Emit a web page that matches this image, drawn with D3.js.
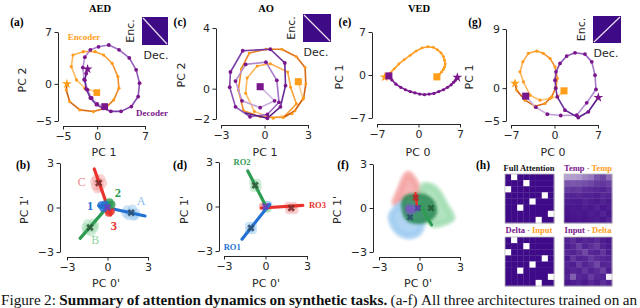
<!DOCTYPE html>
<html>
<head>
<meta charset="utf-8">
<script src="https://cdn.jsdelivr.net/npm/d3@7"></script>
<style>
  body { margin: 0; background: #fff; }
  svg { display: block; }
  .axis text { font-family: "DejaVu Sans"; font-size: 11px; fill: #262626; }
  .axis path, .axis line { stroke: #262626; stroke-width: 1; }
  .lab { font-family: "DejaVu Sans"; font-size: 11px; fill: #262626; }
  .bold { font-family: "Liberation Serif"; font-weight: bold; }
</style>
</head>
<body>
<div id="chart"></div>
<script>
// ---------- data ----------
// (a) AED trajectories, start (square) -> end (star)
const aEncoder = [[-0.05,-1.17],[-0.3,-1.03],[-1.8,-0.58],[-3.03,0.54],[-3.78,2.33],[-3.54,3.9],[-2.04,4.35],
  [-0.3,4.35],[0.94,3.9],[2.19,2.78],[3.03,0.99],[3.18,-0.58],[2.43,-2.16],[1.19,-3.28],[-0.55,-3.73],
  [-2.54,-3.5],[-4.03,-2.38],[-4.52,-0.81],[-4.43,0.0]];
const aDecoder = [[1.1,-3.05],[0.0,-2.7],[-0.8,-1.9],[-1.4,-0.8],[-1.9,0.6],[-2.1,2.2],[-1.8,3.6],[-1.0,4.6],
  [0.2,5.0],[1.7,5.25],[3.2,4.6],[4.7,3.5],[5.7,1.9],[6.2,0.1],[6.0,-1.7],[5.0,-3.05],[3.5,-3.7],[2.0,-3.7],
  [0.9,-3.3],[-0.1,-2.8],[-1.0,-1.9],[-1.6,-0.7],[-1.8,0.5],[-1.6,1.4],[-1.4,2.0]];
// (c) AO
const cOrange = [[2.33,0.46],[2.65,-0.7],[1.9,-1.65],[0.6,-1.95],[-0.7,-1.5],[-1.3,-0.3],[-1.2,0.7],[-0.5,1.5],
  [0.4,1.65],[1.6,1.1],[1.8,0.1],[2.2,-1.0],[1.3,-1.9],[-0.3,-1.85],[-1.45,-1.45],[-1.8,-0.1],[-1.6,1.3],
  [-1.05,2.35],[0.1,2.6],[1.2,2.6],[2.2,2.1],[2.8,1.4],[2.85,0.3],[2.7,-0.6],[2.1,-1.45],[1.4,-1.85]];
const cPurple = [[-0.3,0.13],[0.7,-0.8],[-0.3,-1.25],[-1.55,-0.8],[-2.0,0.5],[-1.3,1.6],[0.1,1.75],[0.85,0.55],
  [1.0,-0.9],[0.2,-1.7],[-1.0,-1.85],[-2.0,-1.2],[-2.4,0.1],[-2.35,1.1],[-1.5,2.5],[0.4,2.6],[1.4,1.7],
  [1.45,0.2],[1.1,-1.2],[0.2,-1.95],[-1.3,-1.6]];
// (e) VED
const eOrange = [[3.1,-0.3],[3.5,0.1],[3.9,0.5],[4.2,0.9],[4.4,1.3],[4.5,1.8],[4.4,2.4],[4.2,3.0],[3.8,3.6],
  [3.2,4.1],[2.5,4.5],[1.6,4.6],[0.6,4.4],[-0.4,3.9],[-1.4,3.2],[-2.4,2.5],[-3.3,1.8],[-4.1,1.0],[-4.8,0.3],
  [-5.4,-0.2],[-5.7,-0.35]];
const ePurple = [[-5.0,-0.15],[-4.5,-0.8],[-3.8,-1.5],[-3.0,-2.0],[-2.2,-2.4],[-1.4,-2.7],[-0.6,-2.9],[0.2,-3.1],
  [1.0,-3.2],[1.8,-3.1],[2.6,-3.0],[3.4,-2.7],[4.2,-2.4],[4.9,-2.0],[5.5,-1.6],[5.9,-1.2],[6.2,-0.9],
  [6.4,-0.6],[6.55,-0.4]];
// (g)
const gOrange = [[1.53,-0.41],[0.5,-1.3],[-0.72,-1.57],[-2.33,-1.83],[-3.94,-1.07],[-5.0,0.96],[-5.55,2.48],
  [-5.1,4.0],[-4.2,5.3],[-2.87,5.64],[-1.8,5.3],[-0.72,4.52],[0.08,3.25],[0.45,1.48],[0.24,0.2],[-0.45,-1.32],
  [-1.53,-2.33],[-3.14,-2.74],[-4.75,-1.83],[-6.1,-0.3],[-6.36,0.72]];
const gPurple = [[-4.64,-1.22],[-3.0,-2.9],[-1.15,-3.96],[1.0,-4.16],[3.57,-4.12],[5.18,-2.24],[6.68,-0.2],
  [6.52,1.98],[6.0,4.0],[4.9,5.18],[3.3,5.38],[1.96,4.88],[0.89,3.76],[0.24,2.48],[0.08,1.22],[0.2,0.0],
  [0.45,-1.32],[1.69,-3.35],[3.83,-4.47],[5.44,-3.6],[7.05,-1.42]];

// (b) readout lines, clusters, markers
const bLineRed = [[-0.98,2.6],[0.23,-0.5]];
const bLineGreen = [[-2.03,-2.08],[0.23,0.28]];
const bLineBlue = [[-0.65,0.12],[2.78,-0.57]];
const bClusterC = [[-0.85,1.95],[-0.5,1.95],[-0.35,1.65],[-0.55,1.35],[-0.9,1.45],[-0.65,1.7],[-0.75,1.25],[-0.95,1.75]];
const bClusterB = [[-1.5,-1.1],[-1.1,-1.05],[-1.0,-1.4],[-1.2,-1.65],[-1.55,-1.55],[-1.3,-1.35],[-1.6,-1.35],[-0.95,-1.2]];
const bClusterA = [[1.45,-0.15],[1.85,-0.1],[2.1,-0.35],[1.9,-0.6],[1.55,-0.55],[1.75,-0.35],[1.35,-0.4],[2.05,-0.55]];
const bCenterBlue = [[-0.45,0.15],[-0.3,-0.05],[-0.2,0.2]];
const bCenterGreen = [[0.15,0.35],[0.3,0.2],[0.1,0.15]];
const bCenterRed = [[0.1,-0.35],[0.25,-0.25],[0.05,-0.15]];
const bMarkA = [1.75,-0.35], bMarkB = [-1.3,-1.35], bMarkC = [-0.65,1.65], bMarkCenter = [0,0];

// (d)
const dLineGreen = [[-1.28,2.4],[0.1,-0.1]];
const dLineRed = [[-0.3,-0.1],[2.7,0.07]];
const dLineBlue = [[-1.7,-2.2],[0.29,0.14]];
const dClusterGreen = [[-0.9,1.6],[-0.6,1.6],[-0.55,1.3],[-0.85,1.25],[-0.75,1.45]];
const dClusterRed = [[1.65,0.05],[2.05,0.05],[2.1,-0.25],[1.7,-0.25],[1.86,-0.1]];
const dClusterBlue = [[-1.2,-1.3],[-0.9,-1.3],[-0.9,-1.6],[-1.2,-1.6],[-1.05,-1.45]];
const dCenterRed = [[-0.2,0.0],[-0.1,0.05]];
const dCenterGreen = [[0.15,-0.15],[0.05,-0.1]];
const dCenterBlue = [[0.2,0.1],[0.1,0.12]];
const dMarkGreen = [-0.75,1.43], dMarkRed = [1.86,-0.1], dMarkBlue = [-1.05,-1.45], dMarkCenter = [0,0];

// (f) clouds
const fCloudRed = [[-0.85,2.3],[-0.5,2.0],[-0.1,1.3],[0.05,0.9],[-0.6,0.6],[-1.4,0.45],[-1.8,0.35],[-1.5,1.1]];
const fCloudBlue = [[-1.2,0.3],[-0.5,0.2],[0.1,-0.4],[0.1,-1.4],[-0.4,-1.85],[-1.1,-1.85],[-1.7,-1.5],[-2.1,-0.6],[-1.8,-0.1]];
const fCloudGreen = [[0.3,1.5],[0.9,1.45],[1.35,1.1],[1.9,0.2],[2.4,-0.7],[1.9,-0.95],[1.0,-1.1],[0.4,-0.4],[0.2,0.6]];
const fCloudDark = [[-1.1,0.7],[-0.2,0.9],[0.7,0.7],[1.15,0.1],[1.1,-0.5],[0.3,-0.95],[-0.8,-0.85],[-1.2,-0.2]];
const fCloudPurple = [[-0.95,0.1],[-0.5,0.15],[-0.3,-0.15],[-0.6,-0.35],[-0.95,-0.25]];
const fLineGreen = [[0.04,0.2],[0.9,-1.16]];
const fLineRed = [[-0.3,1.0],[-0.2,0.2]];
const fMarkRed = [-0.28,0.7], fMarkGreen = [0.85,0.0], fMarkBlue = [-0.7,-0.63], fMarkCenter = [-0.13,0.0];

// (h) attention maps
const fullAttnPerm = [1, 3, 0, 6, 4, 2, 7, 5];
const tempTemp = [
  [0.62,0.6,0.58,0.5,0.45,0.3,0.25,0.4],
  [0.3,0.32,0.3,0.28,0.25,0.2,0.18,0.22],
  [0.2,0.18,0.2,0.15,0.14,0.12,0.1,0.15],
  [0.12,0.1,0.12,0.1,0.1,0.08,0.12,0.1],
  [0.08,0.07,0.06,0.1,0.08,0.06,0.1,0.06],
  [0.05,0.06,0.05,0.08,0.06,0.1,0.05,0.08],
  [0.04,0.05,0.06,0.05,0.08,0.06,0.1,0.05],
  [0.03,0.04,0.05,0.04,0.06,0.08,0.05,0.1]];
const inputDelta = [
  [0.1,0.15,0.08,0.12,0.1,0.14,0.08,0.05],
  [0.08,0.12,0.22,0.1,0.15,0.2,0.1,0.06],
  [0.12,0.1,0.15,0.25,0.12,0.1,0.18,0.08],
  [0.06,0.18,0.1,0.12,0.2,0.14,0.12,0.1],
  [0.1,0.08,0.2,0.1,0.15,0.25,0.1,0.12],
  [0.08,0.12,0.1,0.18,0.1,0.14,0.22,0.08],
  [0.1,0.35,0.12,0.1,0.2,0.12,0.1,0.95],
  [0.05,0.08,0.1,0.06,0.12,0.08,0.15,0.1]];

// tick values & labels
const ticksA = [-5, 0, 7], ticksALab = ["\u22125", "0", "7"];
const ticksCX = [-3, 0, 3], ticksCXLab = ["\u22123", "0", "3"];
const ticksCY = [-2, 0, 4], ticksCYLab = ["\u22122", "0", "4"];
const ticksE = [-7, 0, 7], ticksELab = ["\u22127", "0", "7"];
const ticksGY = [-5, 0, 9], ticksGYLab = ["\u22125", "0", "9"];
const ticks3 = [-3, 0, 3], ticks3Lab = ["\u22123", "0", "3"];

// caption words: [word, bold]
const captionWords = [["Figure", 0], ["2:", 0], ["Summary", 1], ["of", 1], ["attention", 1], ["dynamics", 1],
  ["on", 1], ["synthetic", 1], ["tasks.", 1], ["(a-f)", 0], ["All", 0], ["three", 0], ["architectures", 0],
  ["trained", 0], ["on", 0], ["an", 0]];

// ---------- drawing ----------
const svg = d3.select("#chart").append("svg").attr("width", 640).attr("height", 308);
const defs = svg.append("defs");
defs.append("filter").attr("id", "soft").attr("x", "-20%").attr("y", "-20%").attr("width", "140%").attr("height", "140%")
  .append("feGaussianBlur").attr("stdDeviation", 1.6);

const ORANGE = "#ff9e1b", PURPLE = "#7a168c";
const orangeRamp = d3.interpolateRgbBasis(["#fdd08f", "#ff9b22", "#c9580f"]);
const purpleRamp = d3.interpolateRgbBasis(["#cdb7e2", "#9355bd", "#561a8a"]);

function panel(p) {
  const x = d3.scaleLinear().domain(d3.extent(p.xTicks)).range(p.xr);
  const y = d3.scaleLinear().domain(d3.extent(p.yTicks)).range(p.yr);
  svg.append("g").attr("class", "axis")
    .attr("transform", `translate(0,${p.xAxisY})`)
    .call(d3.axisBottom(x).tickValues(p.xTicks).tickFormat((d, i) => p.xLab[i])
      .tickSize(3.5).tickSizeOuter(0).tickPadding(2.5));
  svg.append("g").attr("class", "axis")
    .attr("transform", `translate(${p.yAxisX},0)`)
    .call(d3.axisLeft(y).tickValues(p.yTicks).tickFormat((d, i) => p.yLab[i])
      .tickSize(3.5).tickSizeOuter(0).tickPadding(2.5));
  svg.append("text").attr("class", "lab").attr("text-anchor", "middle")
    .attr("x", p.xTitle[0]).attr("y", p.xTitle[1]).text(p.xName);
  svg.append("text").attr("class", "lab").attr("text-anchor", "middle")
    .attr("transform", `translate(${p.yTitle[0]},${p.yTitle[1]}) rotate(-90)`).text(p.yName);
  svg.append("text").attr("class", "bold").attr("font-size", 11.5).attr("text-anchor", "middle")
    .attr("x", p.tag[0]).attr("y", p.tag[1]).text(p.tagText);
  return { x, y };
}

function traj(s, pts, ramp, dotColor, o) {
  const g = svg.append("g");
  const n = pts.length;
  const segs = d3.range(n - 1);
  g.selectAll("line").data(segs).join("line")
    .attr("x1", i => s.x(pts[i][0])).attr("y1", i => s.y(pts[i][1]))
    .attr("x2", i => s.x(pts[i + 1][0])).attr("y2", i => s.y(pts[i + 1][1]))
    .attr("stroke", i => ramp(i / (n - 2)))
    .attr("stroke-width", o.lw).attr("stroke-linecap", "round");
  g.selectAll("circle").data(pts.slice(1, -1)).join("circle")
    .attr("cx", d => s.x(d[0])).attr("cy", d => s.y(d[1]))
    .attr("r", o.r).attr("fill", dotColor);
  const st = pts[n - 1], sq = pts[0];
  g.append("path").attr("d", d3.symbol(d3.symbolStar, o.star)())
    .attr("transform", `translate(${s.x(st[0])},${s.y(st[1])})`).attr("fill", o.color);
  g.append("path").attr("d", d3.symbol(d3.symbolSquare, o.sq)())
    .attr("transform", `translate(${s.x(sq[0])},${s.y(sq[1])})`).attr("fill", o.color);
}

function inset(x0, y0, w, h, up, encX, decX) {
  svg.append("rect").attr("x", x0).attr("y", y0).attr("width", w).attr("height", h).attr("fill", "#3f0a85");
  svg.append("line").attr("x1", x0 + 1).attr("x2", x0 + w - 1)
    .attr("y1", up ? y0 + h - 1 : y0 + 1).attr("y2", up ? y0 + 1 : y0 + h - 1)
    .attr("stroke", "#e6dff2").attr("stroke-width", 1.2);
  svg.append("text").attr("class", "lab").attr("text-anchor", "middle")
    .attr("transform", `translate(${encX},${y0 + h / 2}) rotate(-90)`).text("Enc.");
  svg.append("text").attr("class", "lab").attr("text-anchor", "middle")
    .attr("x", decX).attr("y", y0 + h + 14).text("Dec.");
}

function title(x, y, t) {
  svg.append("text").attr("class", "bold").attr("font-size", 10.5).attr("text-anchor", "middle")
    .attr("x", x).attr("y", y).text(t);
}

// ----- (a) AED -----
const sa = panel({ xTicks: ticksA, xLab: ticksALab, yTicks: ticksA, yLab: ticksALab,
  xr: [63, 145], yr: [121, 32], xAxisY: 126, yAxisX: 58,
  xName: "PC 1", xTitle: [104, 156], yName: "PC 2", yTitle: [26, 80], tag: [17, 26], tagText: "(a)" });
traj(sa, aEncoder, orangeRamp, "#ff9a1a", { lw: 1.6, r: 1.6, star: 30, sq: 45, color: ORANGE });
traj(sa, aDecoder, purpleRamp, PURPLE, { lw: 1.6, r: 1.9, star: 30, sq: 45, color: PURPLE });
svg.append("text").attr("class", "bold").attr("font-size", 9).attr("fill", ORANGE)
  .attr("text-anchor", "middle").attr("x", 84).attr("y", 40).text("Encoder");
svg.append("text").attr("class", "bold").attr("font-size", 9).attr("fill", PURPLE)
  .attr("text-anchor", "middle").attr("x", 152).attr("y", 116).text("Decoder");
title(100, 12, "AED");
inset(142, 17, 26, 28, false, 134, 156);

// ----- (c) AO -----
const sc = panel({ xTicks: ticksCX, xLab: ticksCXLab, yTicks: ticksCY, yLab: ticksCYLab,
  xr: [221, 308], yr: [119, 28], xAxisY: 125, yAxisX: 216,
  xName: "PC 1", xTitle: [265, 156], yName: "PC 2", yTitle: [185, 75], tag: [180, 26], tagText: "(c)" });
traj(sc, cOrange, orangeRamp, "#ff9a1a", { lw: 1.6, r: 1.5, star: 0, sq: 50, color: ORANGE });
traj(sc, cPurple, purpleRamp, PURPLE, { lw: 1.6, r: 1.9, star: 0, sq: 50, color: PURPLE });
title(266, 12, "AO");
inset(303, 14, 28, 28, false, 295, 316);

// ----- (e) VED -----
const se = panel({ xTicks: ticksE, xLab: ticksELab, yTicks: ticksE, yLab: ticksELab,
  xr: [377, 460], yr: [118, 32], xAxisY: 124, yAxisX: 372,
  xName: "PC 0", xTitle: [418, 156], yName: "PC 1", yTitle: [343, 77], tag: [345, 26], tagText: "(e)" });
traj(se, eOrange, () => "#ffa12a", "#ff9a1a", { lw: 1.7, r: 1.4, star: 30, sq: 50, color: ORANGE });
traj(se, ePurple, () => "#7f2a93", PURPLE, { lw: 1.7, r: 1.6, star: 30, sq: 50, color: PURPLE });
title(419, 12, "VED");

// ----- (g) -----
const sg = panel({ xTicks: ticksE, xLab: ticksELab, yTicks: ticksGY, yLab: ticksGYLab,
  xr: [511, 598], yr: [121, 29], xAxisY: 125, yAxisX: 506,
  xName: "PC 0", xTitle: [553, 156], yName: "PC 1", yTitle: [473, 77], tag: [475, 26], tagText: "(g)" });
traj(sg, gOrange, orangeRamp, "#ff9a1a", { lw: 1.6, r: 1.6, star: 30, sq: 50, color: ORANGE });
traj(sg, gPurple, purpleRamp, PURPLE, { lw: 1.6, r: 1.9, star: 30, sq: 50, color: PURPLE });
inset(593, 16, 28, 27, true, 585, 606);

// ----- bottom-row helpers -----
const RED = "#e8322b", GREEN = "#2e9c52", BLUE = "#2371d3";
const LRED = "#f4a0a0", LGREEN = "#9fdcb0", LBLUE = "#9ccaf0";
function blob(s, pts, color, r, op) {
  svg.append("g").selectAll("circle").data(pts).join("circle")
    .attr("cx", d => s.x(d[0])).attr("cy", d => s.y(d[1])).attr("r", r)
    .attr("fill", color).attr("fill-opacity", op);
}
function seg(s, pts, color, w) {
  svg.append("path").datum(pts).attr("d", d3.line().x(d => s.x(d[0])).y(d => s.y(d[1])))
    .attr("stroke", color).attr("stroke-width", w).attr("fill", "none").attr("stroke-linecap", "round");
}
function xmark(s, p, color, size) {
  svg.append("path").attr("d", d3.symbol(d3.symbolCross, size)())
    .attr("transform", `translate(${s.x(p[0])},${s.y(p[1])}) rotate(45)`)
    .attr("fill", color).attr("fill-opacity", 0.9);
}
function note(s, p, t, color, size, bold) {
  svg.append("text").attr("font-family", "Liberation Serif").attr("font-weight", bold ? "bold" : "normal")
    .attr("font-size", size).attr("fill", color).attr("text-anchor", "middle")
    .attr("x", s.x(p[0])).attr("y", s.y(p[1])).attr("dy", "0.35em").text(t);
}
function cloud(s, pts, color, op, w) {
  svg.append("path").datum(pts)
    .attr("d", d3.line().x(d => s.x(d[0])).y(d => s.y(d[1])).curve(d3.curveCatmullRomClosed))
    .attr("fill", color).attr("fill-opacity", op).attr("stroke", color).attr("stroke-opacity", op)
    .attr("stroke-width", w).attr("stroke-linejoin", "round").attr("filter", "url(#soft)");
}

// ----- (b) -----
const sb = panel({ xTicks: ticks3, xLab: ticks3Lab, yTicks: ticks3, yLab: ticks3Lab,
  xr: [67, 148], yr: [252, 163], xAxisY: 257, yAxisX: 60,
  xName: "PC 0'", xTitle: [106, 287], yName: "PC 1'", yTitle: [28, 210], tag: [23, 169], tagText: "(b)" });
blob(sb, bClusterC, LRED, 4.5, 0.45);
blob(sb, bClusterB, LGREEN, 4.5, 0.5);
blob(sb, bClusterA, LBLUE, 4.5, 0.5);
seg(sb, bLineRed, RED, 3.2);
seg(sb, bLineGreen, GREEN, 3.2);
seg(sb, bLineBlue, BLUE, 3.2);
blob(sb, bCenterRed, RED, 4, 0.8);
blob(sb, bCenterGreen, GREEN, 4, 0.8);
blob(sb, bCenterBlue, BLUE, 4, 0.8);
xmark(sb, bMarkC, "#7d2f2f", 34);
xmark(sb, bMarkB, "#2f5c3c", 34);
xmark(sb, bMarkA, "#2e5170", 34);
xmark(sb, bMarkCenter, "#6d3fbf", 34);
note(sb, [-1.9, 1.72], "C", "#f08a8a", 12, false);
note(sb, [-0.9, -2.2], "B", "#8fd6a0", 12, false);
note(sb, [2.48, 0.42], "A", "#86bde9", 12, false);
note(sb, [-1.28, 0.1], "1", BLUE, 12.5, true);
note(sb, [0.77, 1.0], "2", GREEN, 12.5, true);
note(sb, [0.47, -1.2], "3", RED, 12.5, true);

// ----- (d) -----
const sd = panel({ xTicks: ticks3, xLab: ticks3Lab, yTicks: ticks3, yLab: ticks3Lab,
  xr: [224, 307], yr: [251, 162], xAxisY: 256, yAxisX: 219,
  xName: "PC 0'", xTitle: [266, 287], yName: "PC 1'", yTitle: [188, 210], tag: [180, 169], tagText: "(d)" });
blob(sd, dClusterGreen, LGREEN, 4, 0.5);
blob(sd, dClusterRed, LRED, 4, 0.5);
blob(sd, dClusterBlue, LBLUE, 4, 0.5);
blob(sd, dCenterRed, LRED, 4, 0.7);
blob(sd, dCenterBlue, LBLUE, 4, 0.7);
blob(sd, dCenterGreen, LGREEN, 4, 0.7);
seg(sd, dLineGreen, GREEN, 3.2);
seg(sd, dLineRed, RED, 3.2);
seg(sd, dLineBlue, BLUE, 3.2);
xmark(sd, dMarkGreen, "#2f5c3c", 34);
xmark(sd, dMarkRed, "#7d2f2f", 34);
xmark(sd, dMarkBlue, "#2e5170", 34);
xmark(sd, dMarkCenter, "#6d3fbf", 34);
note(sd, [-1.69, 2.97], "RO2", GREEN, 8.5, true);
note(sd, [-2.41, -2.74], "RO1", BLUE, 8.5, true);
note(sd, [3.75, 0.07], "RO3", RED, 8.5, true);

// ----- (f) -----
const sf = panel({ xTicks: ticks3, xLab: ticks3Lab, yTicks: ticks3, yLab: ticks3Lab,
  xr: [379, 460], yr: [252, 164], xAxisY: 257, yAxisX: 373,
  xName: "PC 0'", xTitle: [418, 287], yName: "PC 1'", yTitle: [341, 210], tag: [343, 169], tagText: "(f)" });
cloud(sf, fCloudRed, LRED, 0.8, 7);
cloud(sf, fCloudBlue, LBLUE, 0.8, 7);
cloud(sf, fCloudGreen, LGREEN, 0.8, 7);
cloud(sf, fCloudDark, "#2e8b57", 0.85, 3);
cloud(sf, fCloudPurple, "#7a55c8", 0.9, 2);
seg(sf, fLineGreen, GREEN, 3);
seg(sf, fLineRed, RED, 2.5);
xmark(sf, fMarkRed, "#b02a2a", 30);
xmark(sf, fMarkGreen, "#255c3a", 30);
xmark(sf, fMarkBlue, "#2e5170", 30);
xmark(sf, fMarkCenter, "#5a3aa8", 30);

// ----- (h) attention maps -----
svg.append("text").attr("class", "bold").attr("font-size", 11.5).attr("text-anchor", "middle")
  .attr("x", 483).attr("y", 169).text("(h)");
const heatColor = d3.scaleLinear().domain([0, 1]).range(["#3f0a87", "#ffffff"]);
function heat(x0, y0, w, h, mat) {
  const n = mat.length;
  const bx = d3.scaleBand().domain(d3.range(n)).range([x0, x0 + w]);
  const by = d3.scaleBand().domain(d3.range(n)).range([y0, y0 + h]);
  const cells = [];
  mat.forEach((row, i) => row.forEach((v, j) => cells.push({ i, j, v })));
  svg.append("g").selectAll("rect").data(cells).join("rect")
    .attr("x", d => bx(d.j)).attr("y", d => by(d.i))
    .attr("width", bx.bandwidth() + 0.3).attr("height", by.bandwidth() + 0.3)
    .attr("fill", d => heatColor(d.v));
  svg.append("rect").attr("x", x0).attr("y", y0).attr("width", w).attr("height", h)
    .attr("fill", "none").attr("stroke", "#b8b8b8").attr("stroke-width", 0.8);
}
const fullAttn = fullAttnPerm.map(c => d3.range(8).map(j => (j === c ? 1 : 0)));
heat(505, 174, 49, 49, fullAttn);
heat(564, 174, 48, 49, tempTemp);
heat(505, 237, 49, 49, fullAttn);
heat(564, 237, 48, 49, inputDelta);

function mapTitle(x, y, parts) {
  const t = svg.append("text").attr("class", "bold").attr("font-size", 8.5).attr("text-anchor", "middle")
    .attr("x", x).attr("y", y);
  parts.forEach(p => t.append("tspan").attr("fill", p[1]).text(p[0]));
}
mapTitle(529, 171, [["Full Attention", "#111"]]);
mapTitle(588, 171, [["Temp", PURPLE], [" \u00b7 ", "#888"], ["Temp", ORANGE]]);
mapTitle(529, 233, [["Delta", PURPLE], [" \u00b7 ", "#888"], ["Input", ORANGE]]);
mapTitle(588, 233, [["Input", PURPLE], [" \u00b7 ", "#888"], ["Delta", ORANGE]]);

// ----- caption, justified word by word -----
const capSize = 15.2, capX0 = 1, capX1 = 637;
const cap = svg.append("text").attr("font-family", "Liberation Serif").attr("font-size", capSize)
  .attr("fill", "#111").attr("y", 305);
const widths = captionWords.map(([w, b]) => {
  const t = svg.append("text").attr("font-family", "Liberation Serif").attr("font-size", capSize)
    .attr("font-weight", b ? "bold" : "normal").text(w);
  const len = t.node().getComputedTextLength();
  t.remove();
  return len;
});
const gap = (capX1 - capX0 - d3.sum(widths)) / (captionWords.length - 1);
let cx = capX0;
captionWords.forEach(([w, b], i) => {
  cap.append("tspan").attr("x", cx).attr("font-weight", b ? "bold" : "normal").text(w);
  cx += widths[i] + gap;
});
</script>
</body>
</html>
